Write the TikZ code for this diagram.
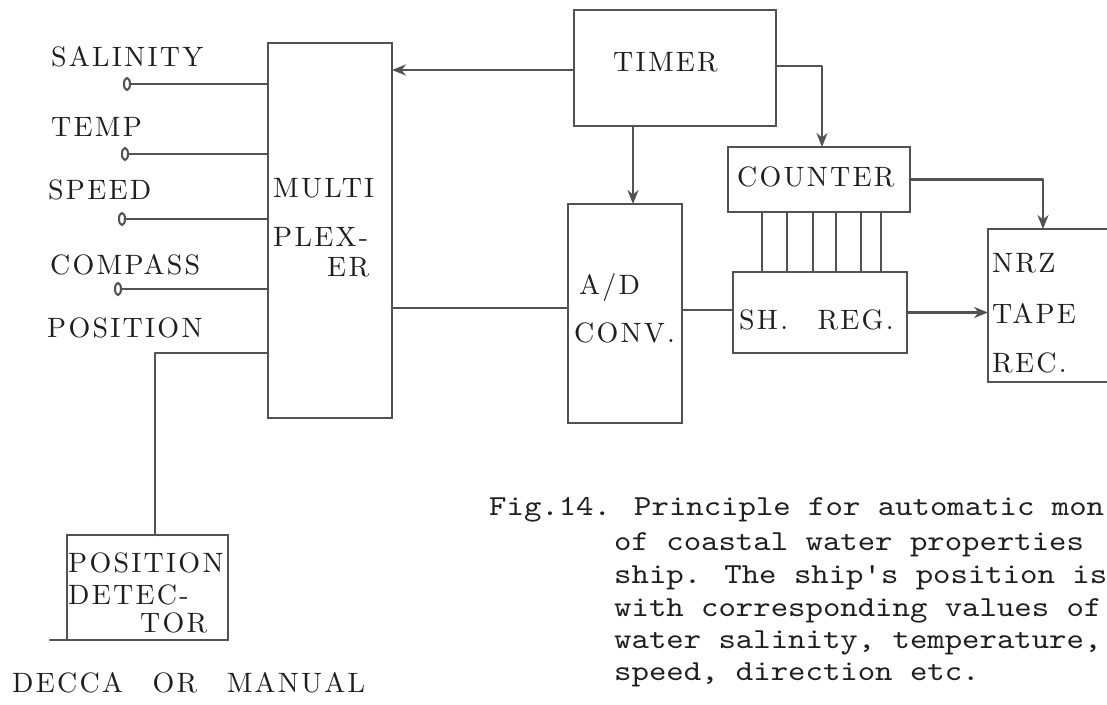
\documentclass[tikz,border=0pt]{standalone}
\usepackage{fontspec}
\usetikzlibrary{arrows.meta,shapes.geometric}
\newfontfamily\lblfam{lmroman10-regular.otf}[LetterSpace=8]
\newfontfamily\capfam{lmmono10-regular.otf}[FakeStretch=1.143]
\newcommand\lblfont{\lblfam\fontsize{28}{32}\selectfont}
\newcommand\capfont{\capfam\fontsize{29}{33}\selectfont}
\newcommand\wgap{\hspace{18pt}\space}
\definecolor{ink}{gray}{0.32}
\definecolor{txt}{gray}{0.12}
\tikzset{
  wire/.style={draw=ink, line width=2.6pt, line cap=round, line join=round},
  arr/.style={wire, -{Stealth[length=14pt,width=11pt]}},
  blk/.style={draw=ink, line width=2.8pt, rectangle, inner sep=0pt, outer sep=0pt, anchor=north west},
  lbl/.style={font=\lblfont, text=txt, anchor=west, inner sep=0pt},
  captext/.style={font=\capfont, text=txt, anchor=west, inner sep=0pt},
  term/.style={draw=ink, line width=2pt, ellipse, minimum width=6pt, minimum height=12pt, inner sep=0pt, outer sep=0pt},
}
\begin{document}
\begin{tikzpicture}[x=1pt,y=-1pt]
\clip (0,0) rectangle (1107,704);
\fill[white] (0,0) rectangle (1107,704);

% blocks
\node[blk, minimum width=124pt, minimum height=375pt] (mux) at (268,43) {};
\node[blk, minimum width=202pt, minimum height=116pt] (timer) at (574,10) {};
\node[blk, minimum width=114pt, minimum height=219pt] (ad) at (568,204) {};
\node[blk, minimum width=182pt, minimum height=65pt] (counter) at (728,147) {};
\node[blk, minimum width=174pt, minimum height=81pt] (shreg) at (733,272) {};
\node[blk, minimum width=170pt, minimum height=153pt] (nrz) at (988,229) {};
\node[blk, minimum width=161pt, minimum height=105pt] (posdet) at (67,535) {};

% block texts
\node[lbl] (tmux1) at (273,188) {MULTI};
\node[lbl] (tmux2) at (273,237) {PLEX-};
\node[lbl] (tmux3) at (327,267) {ER};
\node[lbl] (ttimer) at (613,62) {TIMER};
\node[lbl] (tad1) at (579,287) {A/D};
\node[lbl] (tad2) at (574,333) {CONV.};
\node[lbl] (tcount) at (737,177) {COUNTER};
\node[lbl] (tsh) at (739,320) {SH.\wgap REG.};
\node[lbl] (tnrz1) at (992,263) {NRZ};
\node[lbl] (tnrz2) at (992,313) {TAPE};
\node[lbl] (tnrz3) at (992,363) {REC.};
\node[lbl] (tpd1) at (68,563) {POSITION};
\node[lbl] (tpd2) at (68,595) {DETEC-};
\node[lbl] (tpd3) at (140,623) {TOR};

% input labels
\node[lbl] (lsal) at (51,57) {SALINITY};
\node[lbl] (ltemp) at (51,127) {TEMP};
\node[lbl] (lspeed) at (48,190) {SPEED};
\node[lbl] (lcomp) at (50,265) {COMPASS};
\node[lbl] (lpos) at (47,328) {POSITION};
\node[lbl] (decca) at (12,683) {DECCA\wgap OR\wgap MANUAL};

% terminals
\node[term] (t1) at (127,84) {};
\node[term] (t2) at (125,154) {};
\node[term] (t3) at (122,219) {};
\node[term] (t4) at (118,289) {};
\draw[wire] (t1.east) -- (mux.west |- t1);
\draw[wire] (t2.east) -- (mux.west |- t2);
\draw[wire] (t3.east) -- (mux.west |- t3);
\draw[wire] (t4.east) -- (mux.west |- t4);

% position line
\coordinate (pl) at (155,353);
\draw[wire] (mux.west |- pl) -- (pl) -- (pl |- posdet.north);
\coordinate (pdl) at (50,640);
\draw[wire] (pdl) -- (posdet.south west);

% timer connections
\coordinate (tm) at (0,70);
\draw[arr] (timer.west |- tm) -- (mux.east |- tm);
\coordinate (tx) at (633,0);
\draw[arr] (timer.south -| tx) -- (ad.north -| tx);
\coordinate (tc) at (822,66);
\draw[arr] (timer.east |- tc) -| (counter.north -| tc);

% mux -> A/D -> shreg
\coordinate (ma) at (0,308);
\draw[wire] (mux.east |- ma) -- (ad.west |- ma);
\coordinate (as) at (0,310);
\draw[wire] (ad.east |- as) -- (shreg.west |- as);

% counter -> shreg parallel lines
\foreach \xx/\nm in {762/b1,787/b2,813/b3,836/b4,861/b5,881/b6}{
  \coordinate (\nm) at (\xx,0);
  \draw[wire] (counter.south -| \nm) -- (shreg.north -| \nm);
}

% shreg -> nrz
\draw[arr] (shreg.east) -- (nrz.west |- shreg.east);
\coordinate (cn) at (1043,0);
\draw[arr] (counter.east) -| (nrz.north -| cn);

% caption
\node[captext] (c1) at (489,510) {Fig.14. Principle for automatic mon};
\node[captext] (c2) at (614,545) {of coastal water properties};
\node[captext] (c3) at (614,578) {ship. The ship's position is};
\node[captext] (c4) at (614,611) {with corresponding values of};
\node[captext] (c5) at (614,643) {water salinity, temperature,};
\node[captext] (c6) at (614,675) {speed, direction etc.};
\end{tikzpicture}
\end{document}
